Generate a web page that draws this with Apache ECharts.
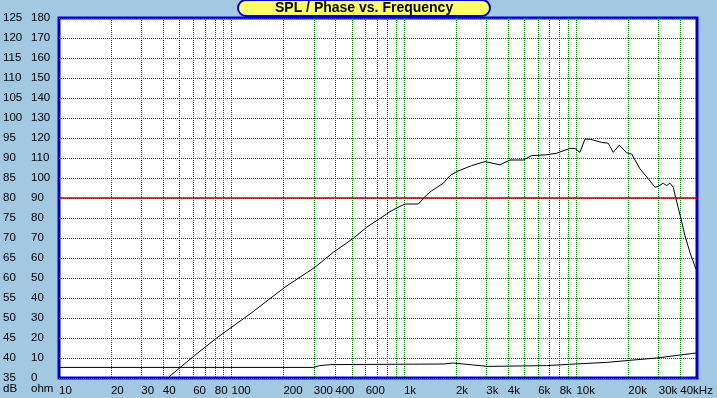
<!DOCTYPE html>
<html>
<head>
<meta charset="utf-8">
<script src="https://cdn.jsdelivr.net/npm/echarts@6/dist/echarts.min.js"></script>
<style>
  html, body { margin: 0; padding: 0; background: #A2C8E2; }
  #chart { width: 717px; height: 398px; }
</style>
</head>
<body>
<div id="chart"></div>
<script>
// frequency grid and label positions (Hz)
const gridFreqs = [20, 30, 40, 50, 60, 70, 80, 90, 100, 200, 300, 400, 500, 600, 700, 800, 900,
  1000, 2000, 3000, 4000, 5000, 6000, 7000, 8000, 9000, 10000, 20000, 30000, 40000];
const labelFreqs = [10, 20, 30, 40, 60, 80, 100, 200, 300, 400, 600, 1000, 2000, 3000, 4000,
  6000, 8000, 10000, 20000, 30000, 40000];

// SPL curve (dB)
const splFreq = [40, 44, 61, 82, 128, 204, 305, 389, 508, 608, 794, 830, 948, 1014, 1211, 1355, 1448,
  1690, 1849, 2020, 2468, 2950, 3600, 4116, 4918, 5500, 6716, 7675, 9170, 9800, 10480, 11200,
  11970, 14000, 15280, 16340, 17700, 19550, 20900, 23340, 26100, 28500, 29800, 31850, 33340,
  34850, 36420, 37750, 40180, 42560, 45500, 49300];
const splDb = [33.5, 35.5, 40.6, 45, 51, 57.7, 62.7, 66.4, 69.9, 72.7, 76, 76.6, 77.9, 78.5, 78.5, 80.8, 81.8,
  83.7, 85.6, 86.6, 88.1, 89.1, 88.3, 89.5, 89.5, 90.6, 90.8, 91.2, 92.4, 92.4, 91.4, 94.7,
  94.7, 93.9, 93.7, 91.4, 93.2, 91.3, 91, 87.3, 84.8, 82.7, 82.9, 83.7, 83.1,
  83.7, 82.7, 79.8, 75.2, 70.6, 66.4, 62.2];

// impedance curve (ohm)
const impFreq = [10, 300, 325, 375, 1700, 1930, 2520, 3080, 6716, 9800, 14960, 21350, 29170, 40000, 49300];
const impOhm = [5.3, 5.3, 6.2, 6.7, 7, 7.5, 6.5, 5.8, 6.2, 7, 7.8, 9, 10, 11.5, 12.5];

const chart = echarts.init(document.getElementById('chart'));
const font = 'Liberation Sans, Arial, sans-serif';
// green dotted grid, 1px on / 1px off
const gridLine = { color: '#008000', type: [1, 1], width: 1, cap: 'butt' };

function fmtFreq(v) {
  if (v >= 40000) return v / 1000 + 'kHz';
  if (v >= 1000) return v / 1000 + 'k';
  return String(v);
}

chart.setOption({
  backgroundColor: '#A2C8E2',
  animation: false,
  title: {
    text: 'SPL / Phase vs. Frequency',
    left: 238, top: 0,
    z: 20,
    backgroundColor: '#FFFF66',
    borderColor: '#0000C8', borderWidth: 2, borderRadius: 8,
    padding: [1, 37, 1, 37],
    textStyle: { fontFamily: font, fontSize: 14, fontWeight: 'bold', color: '#000' }
  },
  grid: {
    left: 59, right: 20, top: 18, bottom: 20,
    show: true, backgroundColor: '#fff', borderColor: '#0000C8', borderWidth: 3, z: 0
  },
  xAxis: {
    type: 'log', logBase: 10, min: 10, max: 50000,
    axisLine: { show: false },
    axisTick: { show: false, customValues: gridFreqs },
    axisLabel: {
      customValues: labelFreqs, align: 'left', margin: 7,
      color: '#000', fontFamily: font, fontSize: 11.5, formatter: fmtFreq
    },
    splitLine: { show: true, lineStyle: gridLine }
  },
  yAxis: [{
    type: 'value', min: 35, max: 125, interval: 5, position: 'left',
    axisLine: { show: false }, axisTick: { show: false },
    axisLabel: { align: 'left', margin: 56, color: '#000', fontFamily: font, fontSize: 11.5 },
    splitLine: { show: true, lineStyle: gridLine }
  }, {
    type: 'value', min: 0, max: 180, interval: 10, position: 'left',
    axisLine: { show: false }, axisTick: { show: false },
    axisLabel: { align: 'left', margin: 28, color: '#000', fontFamily: font, fontSize: 11.5 },
    splitLine: { show: false }
  }],
  graphic: [
    { type: 'text', left: 3, top: 383, style: { text: 'dB', font: '11.5px ' + font, fill: '#000' } },
    { type: 'text', left: 31, top: 383, style: { text: 'ohm', font: '11.5px ' + font, fill: '#000' } }
  ],
  series: [{
    name: 'SPL', type: 'line', yAxisIndex: 0,
    data: splFreq.map((f, i) => [f, splDb[i]]),
    showSymbol: false, symbol: 'none',
    lineStyle: { color: '#000', width: 1 },
    markLine: {
      silent: true, symbol: 'none', label: { show: false },
      lineStyle: { color: '#B40000', type: 'solid', width: 1.5 },
      data: [{ yAxis: 80 }]
    }
  }, {
    name: 'Impedance', type: 'line', yAxisIndex: 1,
    data: impFreq.map((f, i) => [f, impOhm[i]]),
    showSymbol: false, symbol: 'none',
    lineStyle: { color: '#000', width: 1 }
  }]
});
</script>
</body>
</html>
